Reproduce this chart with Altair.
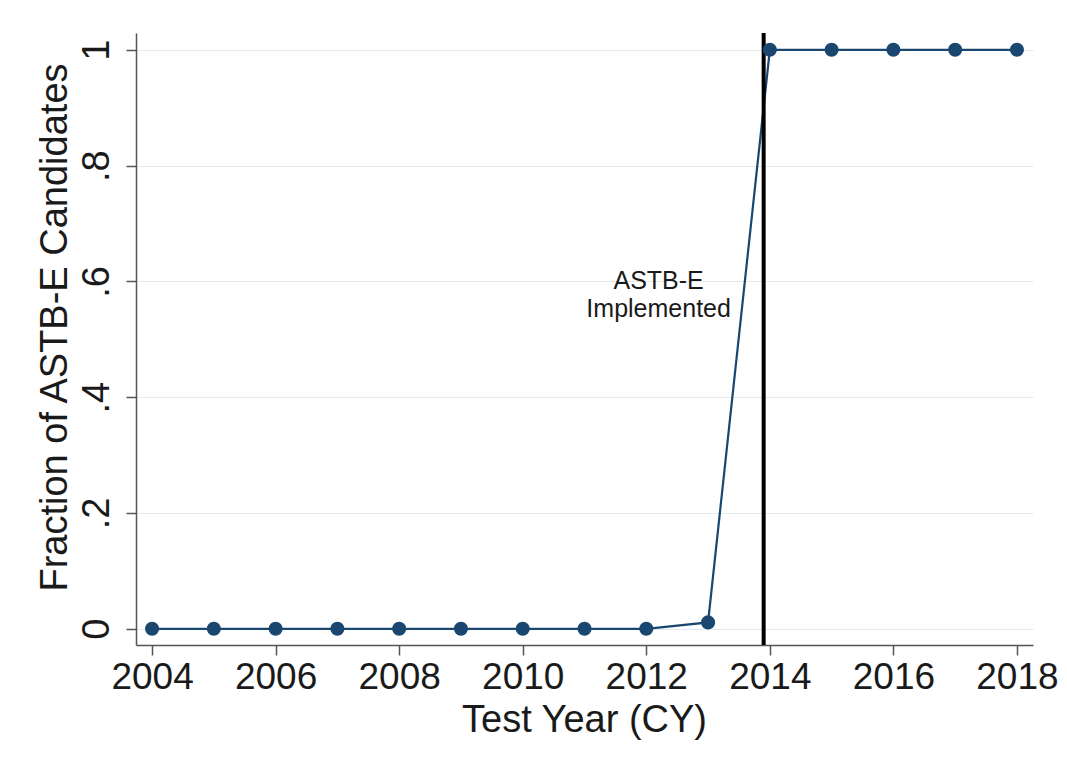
import altair as alt
import pandas as pd

years = list(range(2004, 2019))
fraction = [0, 0, 0, 0, 0, 0, 0, 0, 0, 0.011, 1, 1, 1, 1, 1]
impl_year = [2013.9]
note_x = [2012.2]
note_y = [0.6]
note_text = [["ASTB-E", "Implemented"]]
x_ticks = [2004, 2006, 2008, 2010, 2012, 2014, 2016, 2018]
y_ticks = [0, 0.2, 0.4, 0.6, 0.8, 1]

df = pd.DataFrame({"year": years, "frac": fraction})
rule_df = pd.DataFrame({"year": impl_year})
note_df = pd.DataFrame({"x": note_x, "y": note_y, "t": note_text})

FONT = "Liberation Sans"
W, H = 897, 612
NAVY = "#1a476f"

xscale = alt.Scale(domain=[2003.74, 2018.26], nice=False, zero=False)
yscale = alt.Scale(domain=[-0.028, 1.029], nice=False, zero=False)

xaxis = alt.Axis(
    values=x_ticks, format="d", title="Test Year (CY)", grid=False,
    labelFontSize=37, labelFont=FONT, labelColor="#1a1a1a",
    labelBaseline="alphabetic", labelPadding=33, tickSize=10,
    tickColor="#555555", domainColor="#555555", domainWidth=1.5, tickWidth=1.5,
    titleFontSize=38, titleFont=FONT, titleFontWeight="normal", titleColor="#1a1a1a",
    titleX=448, titleY=86, titleBaseline="alphabetic", titleAlign="center",
    labelFlush=False, labelOverlap=False,
)
yaxis = alt.Axis(
    values=y_ticks, title="Fraction of ASTB-E Candidates",
    labelExpr="datum.value == 0 ? '0' : datum.value == 1 ? '1' : replace(format(datum.value, '.1f'), '0.', '.')",
    labelAngle=270, labelAlign="center", labelBaseline="alphabetic",
    labelFontSize=38, labelFont=FONT, labelColor="#1a1a1a", labelPadding=18,
    tickSize=10, tickColor="#555555", domainColor="#555555", domainWidth=1.5, tickWidth=1.5,
    grid=True, gridColor="#e4ebee", gridWidth=1.2,
    titleFontSize=38, titleFont=FONT, titleFontWeight="normal", titleColor="#1a1a1a",
    titleAngle=270, titleX=-70, titleY=294, titleBaseline="alphabetic", titleAlign="center",
    labelFlush=False, labelOverlap=False,
)

base = alt.Chart(df)
line = base.mark_line(color=NAVY, strokeWidth=2.2).encode(
    x=alt.X("year:Q", scale=xscale, axis=xaxis),
    y=alt.Y("frac:Q", scale=yscale, axis=yaxis),
)
points = base.mark_point(filled=True, color=NAVY, size=200, opacity=1).encode(
    x=alt.X("year:Q", scale=xscale),
    y=alt.Y("frac:Q", scale=yscale),
)
rule = alt.Chart(rule_df).mark_rule(color="black", strokeWidth=4).encode(
    x=alt.X("year:Q", scale=xscale),
    y=alt.value(0),
    y2=alt.value(H),
)
note = alt.Chart(note_df).mark_text(
    font=FONT, fontSize=25, color="#1a1a1a", align="center", baseline="middle", lineHeight=28,
).encode(
    x=alt.X("x:Q", scale=xscale),
    y=alt.Y("y:Q", scale=yscale),
    text="t",
)

chart = alt.layer(line, rule, points, note).properties(
    width=W, height=H,
    autosize=alt.AutoSizeParams(type="none"),
    padding={"left": 128, "top": 25, "right": 26, "bottom": 100},
    background="white",
).configure_view(stroke=None)

chart.save("out.html", embed_options={"renderer": "svg", "actions": False})
